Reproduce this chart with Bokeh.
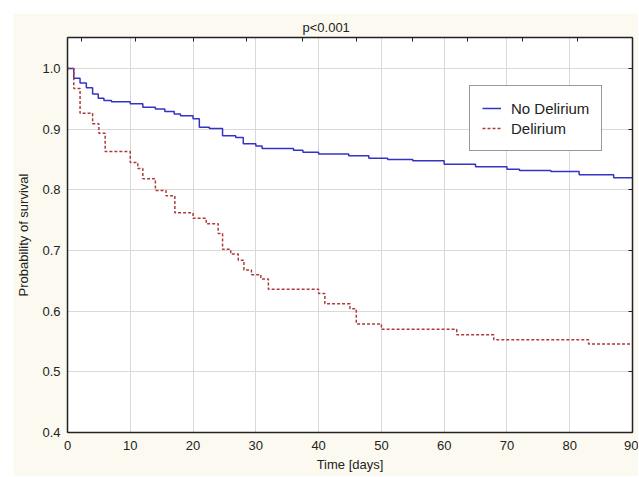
from bokeh.plotting import figure
from bokeh.models import (Range1d, LinearAxis, FixedTicker, Legend, LegendItem,
                          NumeralTickFormatter, CustomJSTickFormatter, Spacer)
from bokeh.layouts import column, row
from bokeh.embed import file_html
from bokeh.resources import INLINE

# --- data ---
no_delirium_days = [0, 1.0, 2.0, 3.0, 4.0, 4.9, 5.8, 7.0, 10.0, 12.0, 14.0, 15.5, 17.0, 18.0,
                    20.0, 21.0, 22.6, 24.7, 26.8, 28.0, 30.0, 31.0, 36.0, 37.5, 40.0, 44.8,
                    48.0, 51.0, 55.0, 60.0, 65.0, 70.0, 72.0, 77.0, 81.5, 87.0, 90.0]
no_delirium_surv = [1.0, 0.984, 0.976, 0.968, 0.958, 0.951, 0.947, 0.945, 0.942, 0.936, 0.933,
                    0.929, 0.925, 0.922, 0.917, 0.903, 0.901, 0.889, 0.886, 0.876, 0.872, 0.868,
                    0.865, 0.862, 0.859, 0.856, 0.852, 0.850, 0.848, 0.842, 0.838, 0.834, 0.832,
                    0.830, 0.825, 0.820, 0.820]

delirium_days = [0, 1.0, 2.0, 4.0, 5.0, 6.0, 10.0, 11.2, 12.0, 14.0, 15.7, 17.1, 20.0, 22.1,
                 24.0, 24.7, 26.0, 27.2, 28.1, 29.3, 30.8, 32.0, 40.0, 41.0, 45.0, 46.0, 50.0,
                 62.0, 67.9, 83.0, 90.0]
delirium_surv = [1.0, 0.967, 0.926, 0.909, 0.893, 0.863, 0.845, 0.835, 0.818, 0.799, 0.790,
                 0.762, 0.753, 0.744, 0.728, 0.702, 0.694, 0.684, 0.668, 0.660, 0.653, 0.636,
                 0.629, 0.612, 0.604, 0.579, 0.570, 0.561, 0.553, 0.546, 0.546]

x_ticks = [0, 10, 20, 30, 40, 50, 60, 70, 80, 90]
y_ticks = [0.4, 0.5, 0.6, 0.7, 0.8, 0.9, 1.0]
top_ticks = [2.2, 10.9, 20.0, 28.5, 37.4, 46.1, 55.0, 63.7, 72.4, 81.3]

FONT = "Liberation Sans"
TXT = "#222222"
CREAM = "#FCFAF0"

p = figure(width=625, height=463, output_backend="svg", toolbar_location=None,
           x_range=Range1d(0, 90), y_range=Range1d(0.4, 1.051),
           min_border_left=51, min_border_right=6, min_border_top=24, min_border_bottom=44,
           title="p<0.001")
p.background_fill_color = "white"
p.border_fill_color = CREAM
p.outline_line_color = "#333333"
p.outline_line_width = 1

p.title.align = "left"
p.title.offset = 235
p.title.standoff = 5
p.title.text_font = FONT
p.title.text_font_size = "13px"
p.title.text_font_style = "normal"
p.title.text_color = TXT

p.xgrid.ticker = FixedTicker(ticks=x_ticks)
p.ygrid.ticker = FixedTicker(ticks=y_ticks)
for g in (p.xgrid, p.ygrid):
    g.grid_line_color = "#D9D9D9"
    g.grid_line_width = 1

xa = p.xaxis[0]
ya = p.yaxis[0]
xa.ticker = FixedTicker(ticks=x_ticks)
ya.ticker = FixedTicker(ticks=y_ticks)
ya.formatter = NumeralTickFormatter(format="0.0")
xa.axis_label = "Time [days]"
ya.axis_label = "Probability of survival"
for ax in (xa, ya):
    ax.major_tick_out = 0
    ax.major_tick_in = 0
    ax.minor_tick_out = 0
    ax.minor_tick_in = 0
    ax.axis_line_color = "#222222"
    ax.axis_line_width = 1.5
    ax.major_label_text_font = FONT
    ax.major_label_text_font_size = "13px"
    ax.major_label_text_color = TXT
    ax.axis_label_text_font = FONT
    ax.axis_label_text_font_size = "13px"
    ax.axis_label_text_font_style = "normal"
    ax.axis_label_text_color = TXT
xa.major_label_standoff = 8
xa.axis_label_standoff = 4
ya.major_label_standoff = 7
ya.axis_label_standoff = 8

top_ax = LinearAxis(ticker=FixedTicker(ticks=top_ticks),
                    formatter=CustomJSTickFormatter(code="return '';"))
right_ax = LinearAxis(ticker=FixedTicker(ticks=y_ticks),
                      formatter=CustomJSTickFormatter(code="return '';"))
for ax in (top_ax, right_ax):
    ax.major_label_standoff = 0
    ax.axis_label_standoff = 0
    ax.major_tick_in = 4
    ax.major_tick_out = 0
    ax.minor_tick_in = 0
    ax.minor_tick_out = 0
    ax.axis_line_color = "#222222"
    ax.axis_line_width = 1.5
    ax.major_tick_line_color = "#222222"
p.add_layout(top_ax, "above")
p.add_layout(right_ax, "right")

r1 = p.step(no_delirium_days, no_delirium_surv, mode="after",
            line_color="#3434C4", line_width=1.5)
r2 = p.step(delirium_days, delirium_surv, mode="after",
            line_color="#B03A3A", line_width=1.5, line_dash="3 2")

legend = Legend(items=[LegendItem(label="No Delirium", renderers=[r1]),
                       LegendItem(label="Delirium", renderers=[r2])],
                location=(402, 281))
legend.border_line_color = "#333333"
legend.border_line_width = 1
legend.background_fill_color = "white"
legend.background_fill_alpha = 1
legend.label_text_font = FONT
legend.label_text_font_size = "15px"
legend.label_text_color = TXT
legend.glyph_width = 19
legend.glyph_height = 20
legend.label_height = 20
legend.spacing = 0
legend.padding = 12
legend.margin = 0
legend.label_standoff = 10
p.add_layout(legend)

root = column(Spacer(height=13, width=10),
              row(Spacer(width=13, height=10), p, spacing=0),
              spacing=0)

open("out.html", "w").write(file_html(root, INLINE))
